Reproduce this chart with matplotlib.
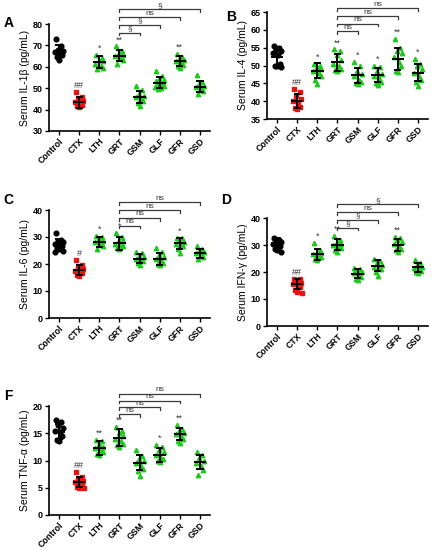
import numpy as np
import matplotlib.pyplot as plt

plt.rcParams['font.family'] = ['Liberation Sans', 'DejaVu Sans']
plt.rcParams['font.weight'] = 'bold'

groups = ["Control", "CTX", "LTH", "GRT", "GSM", "GLF", "GFR", "GSD"]

# A: IL-1beta
il1b_pts = [[72.8, 69.5, 68, 67.5, 67, 66.5, 65.5, 64.5, 63.2],
            [48, 46, 45, 44, 43.5, 42.5, 42, 41.5, 41],
            [65.5, 64, 63, 62.5, 61.5, 60.5, 59.5, 59],
            [69.5, 67.5, 66.5, 65.5, 65, 64, 63, 61.5],
            [51, 49, 47.5, 46.5, 46, 45, 44, 43, 41.5],
            [58, 55.5, 54.5, 54, 53.5, 53, 52.5, 52, 51.5, 51, 50.5, 50, 49.5],
            [66, 64.5, 63.5, 63, 62.5, 62, 61, 60.5, 59.5],
            [56, 53, 52, 51, 50.5, 49.5, 48.5, 47.5]]
il1b_mean = [67.5, 43.4, 62.4, 65.2, 46.1, 52.6, 62.6, 50.7]
il1b_sd = [2.7, 2.6, 2.8, 2.7, 2.8, 2.6, 2.4, 2.6]
il1b_marks = ["", "##", "*", "**", "", "", "**", ""]
il1b_cmp = ["§", "§", "ns", "§"]

# B: IL-4
il4_pts = [[55.5, 55, 54.5, 54, 53.5, 53, 50.5, 50, 50, 49.5],
           [43.5, 42.5, 41.5, 40.5, 40, 39.5, 38.5, 38, 37.8],
           [50.5, 50, 49.5, 49, 48.5, 48, 47, 46, 44.8],
           [54.5, 54, 53, 51.5, 50.5, 50, 49, 48.8, 48.5],
           [51, 50, 48.5, 47.5, 47, 46, 45.5, 45, 44.8],
           [50, 49.5, 48.5, 47.5, 47, 46.5, 45.5, 45, 44.5],
           [57.5, 55, 54, 53.5, 52.5, 51, 50, 48.5, 48.3],
           [51.8, 50.5, 50, 49, 48, 47, 46, 45.5, 44.3]]
il4_mean = [52.5, 40.0, 48.5, 50.9, 47.2, 47.3, 51.8, 48.0]
il4_sd = [2.8, 1.9, 2.1, 2.4, 2.1, 2.0, 3.2, 2.4]
il4_marks = ["", "##", "*", "**", "*", "*", "**", "*"]
il4_cmp = ["ns", "ns", "ns", "ns"]

# C: IL-6
il6_pts = [[31.3, 29, 28.5, 28, 27.5, 27, 26.5, 26, 25.5, 25, 24.5],
           [21.5, 19.5, 19, 18, 17.5, 17, 16.5, 16, 15.5],
           [30.5, 30, 29.5, 28.5, 28, 27.5, 26.5, 25.5],
           [31.5, 30, 29, 28.5, 27.5, 27, 26.5, 26, 25.5],
           [24.5, 24, 23, 22.5, 22, 21.5, 21, 20.5, 19.5],
           [26, 24.5, 23.5, 22.5, 22, 21.5, 20.5, 20, 19.5],
           [29.5, 29.5, 29, 28, 27.5, 27, 26.5, 25.5, 24],
           [26.5, 25.5, 25, 24.5, 24, 23.5, 22.5, 22]]
il6_mean = [27.2, 17.8, 28.2, 27.6, 22.0, 22.0, 27.6, 23.9]
il6_sd = [1.9, 1.7, 1.9, 2.3, 1.8, 2.2, 2.0, 1.5]
il6_marks = ["", "#", "*", "*", "", "", "*", ""]
il6_cmp = ["ns", "ns", "ns", "ns"]

# D: IFN-gamma
ifng_pts = [[32.5, 32, 31.5, 31, 30.5, 30, 29.5, 28.5, 28, 27.3],
            [17.5, 17.3, 16.5, 16, 15.5, 15, 14.5, 13.5, 12.5, 12.2],
            [30.6, 28, 27.5, 27, 26.5, 26, 25.5, 25, 24.5],
            [33.5, 32, 31, 30.5, 30, 29.5, 29, 28, 27.5],
            [21.5, 21, 20.5, 20, 19.5, 19, 18, 17.5, 17],
            [25, 24, 23.5, 22.5, 22, 21.5, 21, 20, 18.5],
            [33, 32.5, 32, 31, 30.5, 29.5, 28.5, 28, 27.5],
            [24.5, 23.5, 22.5, 22, 21.5, 21, 20.5, 20, 19.5]]
ifng_mean = [30.3, 15.5, 26.6, 30.1, 19.4, 22.3, 30.1, 21.7]
ifng_sd = [2.2, 1.8, 2.0, 2.1, 1.8, 2.0, 2.3, 1.7]
ifng_marks = ["", "##", "*", "**", "", "", "**", ""]
ifng_cmp = ["§", "§", "ns", "§"]

# F: TNF-alpha
tnfa_pts = [[17.5, 17, 16.5, 16, 15.5, 15.2, 14.5, 13.8, 13.5],
            [7.9, 7, 6.5, 6.2, 6, 5.8, 5.5, 5.2, 5, 4.9],
            [13.7, 13.5, 13, 12.5, 12.3, 12, 11.5, 11.2, 11],
            [16.2, 15.5, 15, 14.5, 14, 13.5, 13, 12.8, 12.5],
            [12.0, 10.8, 10.3, 10, 9.5, 9, 8.5, 8, 7.1],
            [12.8, 12.5, 12, 11.5, 11, 10.5, 10.2, 10, 9.8],
            [16.5, 15.8, 15.5, 15, 14.8, 14.5, 14, 13.6, 13.3],
            [11.5, 11, 10.5, 10, 9.5, 9, 8.2, 7.3]]
tnfa_mean = [15.3, 6.0, 12.3, 14.2, 9.6, 11.0, 14.8, 9.7]
tnfa_sd = [1.35, 0.9, 1.2, 1.55, 1.4, 1.3, 1.1, 1.3]
tnfa_marks = ["", "##", "**", "**", "", "*", "**", ""]
tnfa_cmp = ["ns", "ns", "ns", "ns"]

jitter = [-0.16, 0.12, -0.04, 0.2, -0.2, 0.06, 0.16, -0.1, 0.0, 0.22, -0.22, 0.09, -0.07]
green = '#1fc81f'
ann_col = '#3a3a3a'

W, H = 437, 550
fig = plt.figure(figsize=(W / 100, H / 100), dpi=100)


def panel(box, pts, means, sds, marks, cmp, ylim, yticks, ylabel, letter, letter_xy, base, step):
    l, t, w, h = box
    ax = fig.add_axes([l / W, 1 - (t + h) / H, w / W, h / H])
    rng = ylim[1] - ylim[0]
    for i, vals in enumerate(pts):
        xs = [i + jitter[k % len(jitter)] for k in range(len(vals))]
        if i == 0:
            ax.plot(xs, vals, 'o', color='black', ms=3.4, zorder=2)
        elif i == 1:
            ax.plot(xs, vals, 's', color='#ee1111', ms=3.4, zorder=2)
        else:
            ax.plot(xs, vals, '^', color=green, ms=3.2, zorder=2)
        m, s = means[i], sds[i]
        ax.plot([i - 0.26, i + 0.26], [m, m], color='black', lw=1.4, zorder=3)
        ax.plot([i, i], [m - s, m + s], color='black', lw=1.4, zorder=3)
        for y in (m - s, m + s):
            ax.plot([i - 0.13, i + 0.13], [y, y], color='black', lw=1.4, zorder=3)
        if marks[i]:
            ax.text(i, max(vals) + 0.02 * rng, marks[i], ha='center', va='bottom',
                    fontsize=6.5, color=ann_col, fontweight='normal')
    # comparisons vs GRT
    tick = 0.025 * rng
    for k, lab in enumerate(cmp):
        x2 = 4 + k
        y = ylim[0] + (base + step * k) * rng
        ax.plot([3, 3, x2, x2], [y - tick, y, y, y - tick], color=ann_col, lw=0.9, clip_on=False)
        ax.text((3 + x2) / 2, y + 0.005 * rng, lab, ha='center', va='bottom',
                fontsize=6, color=ann_col, fontweight='normal')
    ax.set_xlim(-0.5, 7.5)
    ax.set_ylim(*ylim)
    ax.set_yticks(yticks)
    ax.set_xticks(range(len(groups)))
    ax.set_xticklabels(groups, rotation=45, ha='right', rotation_mode='anchor', fontsize=6.3)
    ax.tick_params(axis='y', labelsize=6.5, length=3, width=1, pad=1.5)
    ax.tick_params(axis='x', length=3, width=1, pad=1)
    ax.set_ylabel(ylabel, fontsize=7.5, labelpad=2)
    for side in ('top', 'right'):
        ax.spines[side].set_visible(False)
    for side in ('left', 'bottom'):
        ax.spines[side].set_linewidth(1.2)
    fig.text(letter_xy[0] / W, 1 - letter_xy[1] / H, letter, fontsize=10, fontweight='bold',
             ha='left', va='center')
    return ax


panel((49, 24, 161, 107), il1b_pts, il1b_mean, il1b_sd, il1b_marks, il1b_cmp,
      (30, 80), range(30, 81, 10), 'Serum IL-1β (pg/mL)', 'A', (4, 23), 0.92, 0.072)
panel((267, 12, 161, 107), il4_pts, il4_mean, il4_sd, il4_marks, il4_cmp,
      (35, 65), range(35, 66, 5), 'Serum IL-4 (pg/mL)', 'B', (226, 17), 0.82, 0.071)
panel((49, 210, 161, 108), il6_pts, il6_mean, il6_sd, il6_marks, il6_cmp,
      (0, 40), range(0, 41, 10), 'Serum IL-6 (pg/mL)', 'C', (3, 200), 0.855, 0.072)
panel((267, 218, 161, 108), ifng_pts, ifng_mean, ifng_sd, ifng_marks, ifng_cmp,
      (0, 40), range(0, 41, 10), 'Serum IFN-γ (pg/mL)', 'D', (221, 200), 0.91, 0.072)
panel((49, 406, 161, 109), tnfa_pts, tnfa_mean, tnfa_sd, tnfa_marks, tnfa_cmp,
      (0, 20), range(0, 21, 5), 'Serum TNF-α (pg/mL)', 'F', (4, 396), 0.925, 0.062)

fig.savefig('out.png', dpi=100)
